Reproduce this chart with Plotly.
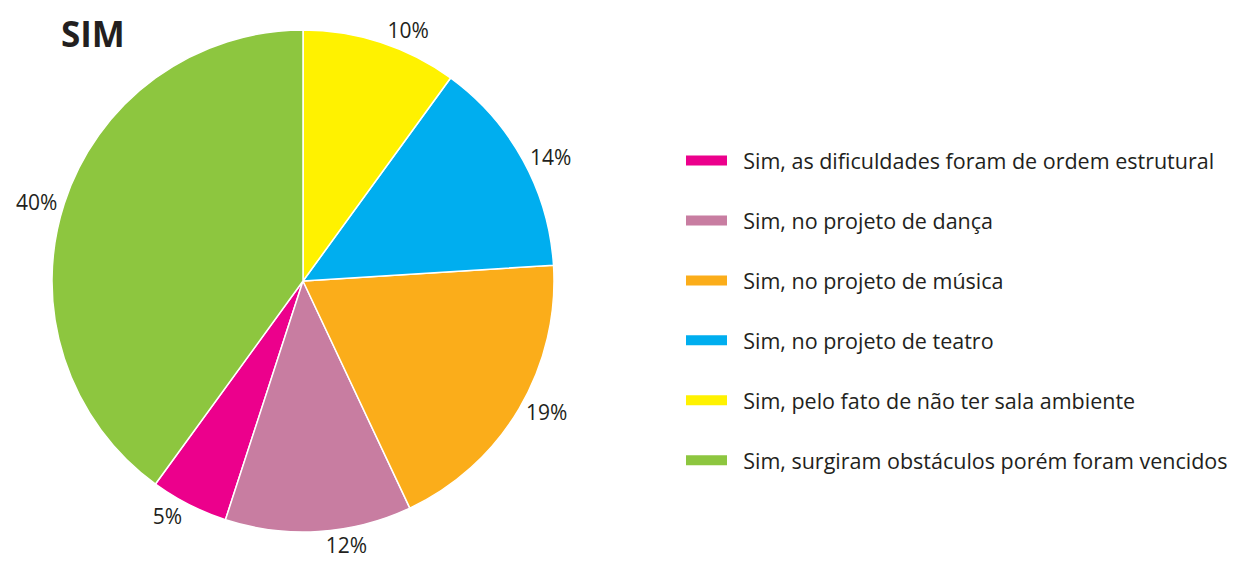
import plotly.graph_objects as go

# dados (percentuais)
categorias = [
    "Sim, as dificuldades foram de ordem estrutural",
    "Sim, no projeto de dança",
    "Sim, no projeto de música",
    "Sim, no projeto de teatro",
    "Sim, pelo fato de não ter sala ambiente",
    "Sim, surgiram obstáculos porém foram vencidos",
]
valores = [5, 12, 19, 14, 10, 40]
cores = ["#EC008C", "#C87DA1", "#FBAD1A", "#00AEEF", "#FFF200", "#8DC63F"]

TXT = "#231F20"
FONTE = "Open Sans"

fig = go.Figure()

fig.add_trace(go.Pie(
    labels=categorias, values=valores, sort=False,
    direction="counterclockwise", rotation=198,
    marker=dict(colors=cores, line=dict(color="white", width=1.5)),
    textinfo="percent", textposition="outside",
    textfont=dict(family=FONTE, size=21, color=TXT),
    domain=dict(x=[44 / 1246, 546 / 1246], y=[37 / 561, 539 / 561]),
    showlegend=False,
    hovertemplate="<b>%{label}</b><br>%{percent}<extra></extra>",
))

# entradas da legenda (uma por categoria, para controlar o espaçamento)
for nome, cor in zip(categorias, cores):
    fig.add_trace(go.Scatter(
        x=[None], y=[None], mode="lines", name="  " + nome,
        legendgroup=nome, line=dict(color=cor, width=18),
        hoverinfo="skip",
    ))

fig.update_layout(
    width=1246, height=561,
    margin=dict(l=0, r=0, t=0, b=0),
    paper_bgcolor="white", plot_bgcolor="white",
    font=dict(family=FONTE, color=TXT),
    title=dict(text="<b>SIM</b>", x=53 / 1246, xanchor="left",
               y=1 - 27 / 561, yanchor="middle",
               font=dict(family=FONTE, size=35, color=TXT)),
    xaxis=dict(visible=False), yaxis=dict(visible=False),
    legend=dict(x=673 / 1246, xanchor="left", y=0.5 - 22 / 561, yanchor="middle",
                font=dict(family=FONTE, size=21.5, color=TXT),
                itemwidth=41, tracegroupgap=29, bgcolor="rgba(0,0,0,0)"),
)

fig.write_html("out.html")
